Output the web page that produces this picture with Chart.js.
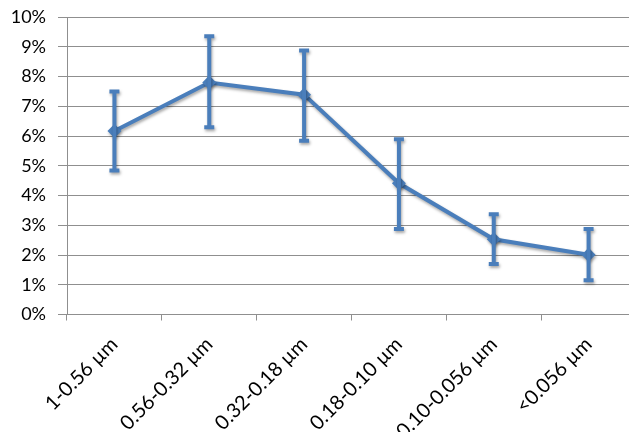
<!DOCTYPE html>
<html>
<head>
<meta charset="utf-8">
<script src="https://cdn.jsdelivr.net/npm/chart.js@4.4.0/dist/chart.umd.min.js"></script>
<style>
  html, body { margin: 0; padding: 0; background: #fff; overflow: hidden; }
  #wrap { width: 640px; height: 432px; }
</style>
</head>
<body>
<div id="wrap"><canvas id="sizeChart"></canvas></div>
<script>
const categories = ['1-0.56 µm', '0.56-0.32 µm', '0.32-0.18 µm', '0.18-0.10 µm', '0.10-0.056 µm', '<0.056 µm'];
const values = [6.17, 7.80, 7.39, 4.41, 2.53, 2.01];
const errLow = [4.84, 6.29, 5.84, 2.87, 1.70, 1.15];
const errHigh = [7.50, 9.35, 8.87, 5.89, 3.37, 2.87];
const yTicks = [0, 1, 2, 3, 4, 5, 6, 7, 8, 9, 10];

const blue = '#4a7ebb';
const gridGray = '#8f8f8f';

// shadow under the series, like the office chart
const shadowPlugin = {
    id: 'shadow',
    beforeDatasetsDraw(chart) {
        const ctx = chart.ctx;
        ctx.save();
        ctx.shadowColor = 'rgba(0,0,0,0.35)';
        ctx.shadowBlur = 3;
        ctx.shadowOffsetX = 1;
        ctx.shadowOffsetY = 2;
    },
    afterDatasetsDraw(chart) {
        chart.ctx.restore();
    }
};

// error bars drawn from the y scale
const errorBarPlugin = {
    id: 'errorBars',
    afterDatasetsDraw(chart) {
        const ctx = chart.ctx;
        const y = chart.scales.y;
        const meta = chart.getDatasetMeta(0);
        ctx.save();
        ctx.shadowColor = 'rgba(0,0,0,0.35)';
        ctx.shadowBlur = 3;
        ctx.shadowOffsetX = 1;
        ctx.shadowOffsetY = 2;
        ctx.strokeStyle = blue;
        ctx.lineWidth = 4;
        meta.data.forEach((pt, i) => {
            const x = pt.x;
            const top = y.getPixelForValue(errHigh[i]);
            const bot = y.getPixelForValue(errLow[i]);
            ctx.beginPath();
            ctx.moveTo(x, top);
            ctx.lineTo(x, bot);
            ctx.moveTo(x - 5, top);
            ctx.lineTo(x + 5, top);
            ctx.moveTo(x - 5, bot);
            ctx.lineTo(x + 5, bot);
            ctx.stroke();
        });
        ctx.restore();
    }
};

const ctx = document.getElementById('sizeChart').getContext('2d');
new Chart(ctx, {
    type: 'line',
    data: {
        labels: categories,
        datasets: [{
            data: values,
            borderColor: blue,
            backgroundColor: blue,
            borderWidth: 4,
            pointStyle: 'rectRot',
            pointRadius: 7,
            pointBorderWidth: 0,
            tension: 0
        }]
    },
    options: {
        responsive: true,
        maintainAspectRatio: false,
        animation: false,
        layout: { padding: { top: 17, right: 4, left: 0, bottom: 0 }, autoPadding: false },
        scales: {
            x: {
                offset: true,
                afterFit: scale => { scale.height = 117.5; scale.paddingLeft = 0; scale.paddingRight = 0; },
                grid: { offset: true, drawOnChartArea: false, color: gridGray, tickLength: 6 },
                border: { color: gridGray },
                ticks: {
                    color: '#000',
                    font: { family: 'Lato', size: 20 },
                    minRotation: 45,
                    maxRotation: 45,
                    padding: 12,
                    autoSkip: false
                }
            },
            y: {
                min: 0,
                max: 10,
                afterFit: scale => { scale.width = 67; scale.paddingTop = 0; scale.paddingBottom = 0; },
                afterBuildTicks: scale => { scale.ticks = yTicks.map(v => ({ value: v })); },
                grid: { color: gridGray, tickLength: 9 },
                border: { color: gridGray },
                ticks: {
                    color: '#000',
                    font: { family: 'Lato', size: 18 },
                    padding: 12,
                    callback: v => v + '%'
                }
            }
        },
        plugins: {
            legend: { display: false },
            tooltip: { enabled: false }
        }
    },
    plugins: [shadowPlugin, errorBarPlugin]
});
</script>
</body>
</html>
